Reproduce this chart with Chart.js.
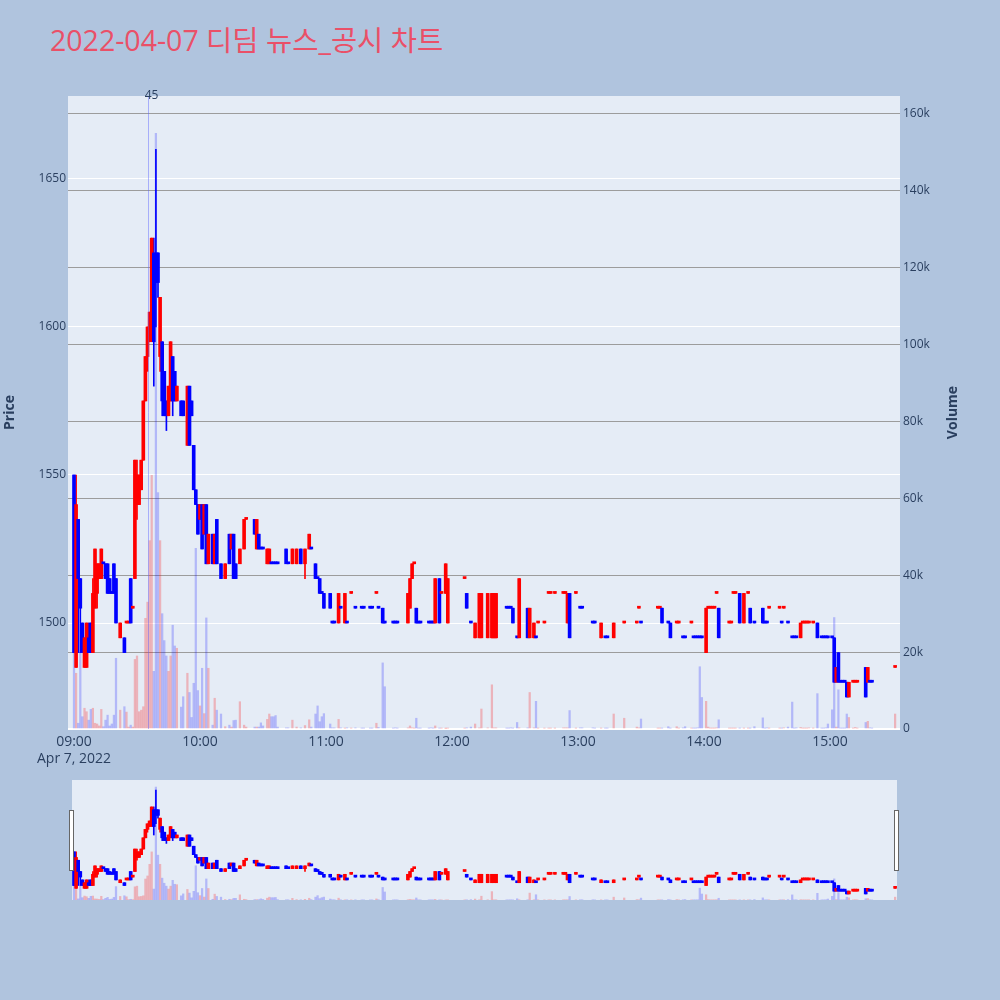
<!DOCTYPE html>
<html>
<head>
<meta charset="utf-8">
<script src="https://cdn.jsdelivr.net/npm/chart.js@4.4.1/dist/chart.umd.min.js"></script>
<style>
  body { margin: 0; width: 1000px; height: 1000px; background: #b0c4de; position: relative; overflow: hidden; }
  #title { position: absolute; left: 50px; top: 21px; font-family: "Open Sans", "Noto Sans CJK KR", sans-serif; font-size: 28.5px; line-height: 38px; color: #ea5068; white-space: nowrap; }
  #main { position: absolute; left: 0; top: 0; }
  #slider { position: absolute; left: 62px; top: 780px; }
</style>
</head>
<body>
<div id="title">2022-04-07 디딤 뉴스_공시 차트</div>
<canvas id="main" width="1000" height="775"></canvas>
<canvas id="slider" width="845" height="120"></canvas>
<script>
// minutes after 09:00
const minutes = [
  0, 1, 2, 3, 4, 5, 6, 7, 8, 9,
  10, 11, 12, 13, 14, 15, 16, 17, 18, 19,
  20, 22, 24, 25, 26, 27, 28, 29, 30, 31,
  32, 33, 34, 35, 36, 37, 38, 39, 40, 41,
  42, 43, 44, 45, 46, 47, 48, 49, 51, 52,
  54, 55, 56, 57, 58, 59, 60, 61, 62, 63,
  64, 66, 67, 68, 70, 72, 74, 75, 76, 77,
  79, 81, 82, 86, 87, 88, 89, 90, 92, 93,
  94, 95, 96, 97, 101, 102, 104, 106, 108, 110,
  112, 113, 115, 116, 117, 118, 119, 122, 123, 124,
  126, 127, 129, 130, 132, 134, 137, 138, 141, 142,
  144, 145, 147, 148, 152, 153, 154, 159, 160, 161,
  162, 163, 164, 165, 169, 170, 171, 172, 174, 175,
  177, 178, 186, 187, 189, 191, 193, 194, 197, 199,
  200, 201, 206, 207, 208, 209, 211, 212, 216, 217,
  219, 220, 221, 224, 226, 227, 229, 233, 234, 235,
  236, 239, 241, 242, 247, 248, 251, 253, 254, 257,
  262, 268, 269, 270, 278, 279, 280, 283, 284, 287,
  288, 290, 291, 294, 295, 296, 297, 298, 299, 301,
  302, 303, 304, 305, 306, 307, 312, 313, 314, 315,
  317, 319, 321, 322, 324, 328, 329, 330, 331, 336,
  337, 338, 340, 342, 343, 344, 346, 347, 348, 349,
  350, 352, 354, 356, 357, 358, 359, 361, 362, 363,
  364, 365, 366, 367, 368, 369, 371, 372, 373, 377,
  378, 379, 380, 391
];
const opens = [
  1550, 1485, 1535, 1515, 1500, 1485, 1485, 1495, 1500, 1490,
  1505, 1510, 1515, 1515, 1520, 1520, 1520, 1515, 1510, 1520,
  1515, 1495, 1495, 1500, 1500, 1515, 1505, 1515, 1540, 1540,
  1545, 1555, 1575, 1590, 1595, 1605, 1625, 1625, 1625, 1590,
  1595, 1585, 1575, 1570, 1575, 1590, 1585, 1575, 1575, 1575,
  1560, 1580, 1575, 1560, 1545, 1540, 1535, 1540, 1530, 1540,
  1520, 1530, 1520, 1535, 1520, 1515, 1530, 1525, 1530, 1520,
  1520, 1525, 1535, 1535, 1525, 1530, 1525, 1525, 1520, 1520,
  1520, 1520, 1520, 1520, 1525, 1520, 1520, 1520, 1525, 1520,
  1525, 1525, 1520, 1515, 1515, 1510, 1510, 1510, 1500, 1500,
  1500, 1505, 1500, 1500, 1510, 1505, 1505, 1505, 1505, 1505,
  1510, 1505, 1505, 1500, 1500, 1500, 1500, 1500, 1505, 1515,
  1520, 1505, 1500, 1500, 1500, 1500, 1500, 1500, 1515, 1510,
  1510, 1500, 1515, 1510, 1500, 1495, 1495, 1495, 1495, 1495,
  1495, 1495, 1505, 1505, 1505, 1505, 1495, 1495, 1505, 1495,
  1495, 1495, 1500, 1500, 1510, 1510, 1510, 1510, 1510, 1500,
  1510, 1510, 1505, 1505, 1500, 1500, 1495, 1495, 1495, 1495,
  1500, 1500, 1505, 1500, 1505, 1505, 1505, 1500, 1500, 1500,
  1500, 1495, 1495, 1500, 1495, 1495, 1495, 1495, 1495, 1490,
  1505, 1505, 1505, 1505, 1510, 1505, 1500, 1500, 1510, 1510,
  1510, 1500, 1510, 1505, 1500, 1505, 1500, 1500, 1505, 1505,
  1500, 1505, 1500, 1495, 1495, 1495, 1495, 1500, 1500, 1500,
  1500, 1500, 1500, 1495, 1495, 1495, 1495, 1495, 1495, 1480,
  1490, 1480, 1480, 1480, 1480, 1475, 1480, 1480, 1480, 1485,
  1480, 1480, 1480, 1485
];
const highs = [
  1550, 1550, 1535, 1515, 1500, 1495, 1500, 1500, 1500, 1515,
  1525, 1520, 1520, 1525, 1520, 1520, 1520, 1515, 1510, 1520,
  1515, 1500, 1495, 1500, 1500, 1515, 1505, 1555, 1555, 1550,
  1555, 1575, 1590, 1600, 1605, 1630, 1630, 1660, 1625, 1610,
  1595, 1585, 1575, 1580, 1595, 1590, 1585, 1580, 1575, 1575,
  1580, 1580, 1575, 1560, 1545, 1540, 1540, 1540, 1540, 1540,
  1530, 1530, 1530, 1535, 1520, 1520, 1530, 1530, 1530, 1520,
  1525, 1535, 1535, 1535, 1535, 1530, 1525, 1525, 1525, 1525,
  1520, 1520, 1520, 1520, 1525, 1520, 1525, 1525, 1525, 1525,
  1530, 1525, 1520, 1515, 1515, 1510, 1510, 1510, 1500, 1500,
  1510, 1505, 1510, 1500, 1510, 1505, 1505, 1505, 1505, 1505,
  1510, 1505, 1505, 1500, 1500, 1500, 1500, 1510, 1515, 1520,
  1520, 1505, 1500, 1500, 1500, 1500, 1500, 1515, 1515, 1510,
  1520, 1515, 1515, 1510, 1500, 1500, 1510, 1510, 1510, 1510,
  1510, 1510, 1505, 1505, 1505, 1505, 1495, 1515, 1505, 1505,
  1500, 1495, 1500, 1500, 1510, 1510, 1510, 1510, 1510, 1510,
  1510, 1510, 1505, 1505, 1500, 1500, 1500, 1495, 1495, 1500,
  1500, 1500, 1505, 1500, 1505, 1505, 1505, 1500, 1500, 1500,
  1500, 1495, 1495, 1500, 1495, 1495, 1495, 1495, 1495, 1505,
  1505, 1505, 1505, 1505, 1510, 1505, 1500, 1500, 1510, 1510,
  1510, 1510, 1510, 1505, 1500, 1505, 1500, 1500, 1505, 1505,
  1500, 1505, 1500, 1495, 1495, 1495, 1500, 1500, 1500, 1500,
  1500, 1500, 1500, 1495, 1495, 1495, 1495, 1495, 1495, 1485,
  1490, 1480, 1480, 1480, 1480, 1480, 1480, 1480, 1480, 1485,
  1485, 1480, 1480, 1485
];
const lows = [
  1490, 1485, 1490, 1490, 1490, 1485, 1485, 1490, 1490, 1490,
  1505, 1505, 1515, 1515, 1520, 1515, 1510, 1510, 1510, 1510,
  1500, 1495, 1490, 1500, 1500, 1500, 1505, 1515, 1535, 1540,
  1545, 1555, 1575, 1585, 1595, 1595, 1580, 1600, 1610, 1585,
  1570, 1570, 1565, 1570, 1575, 1570, 1575, 1575, 1570, 1570,
  1560, 1560, 1570, 1545, 1540, 1530, 1535, 1525, 1530, 1520,
  1520, 1520, 1520, 1520, 1515, 1515, 1520, 1525, 1515, 1515,
  1520, 1525, 1535, 1530, 1525, 1525, 1525, 1525, 1520, 1520,
  1520, 1520, 1520, 1520, 1520, 1520, 1520, 1520, 1520, 1515,
  1525, 1525, 1515, 1515, 1510, 1510, 1505, 1505, 1500, 1500,
  1500, 1505, 1500, 1500, 1510, 1505, 1505, 1505, 1505, 1505,
  1510, 1505, 1500, 1500, 1500, 1500, 1500, 1500, 1505, 1515,
  1520, 1500, 1500, 1500, 1500, 1500, 1500, 1500, 1500, 1510,
  1510, 1500, 1515, 1505, 1500, 1495, 1495, 1495, 1495, 1495,
  1495, 1495, 1505, 1505, 1505, 1500, 1495, 1495, 1495, 1495,
  1495, 1495, 1500, 1500, 1510, 1510, 1510, 1510, 1510, 1500,
  1495, 1510, 1505, 1505, 1500, 1500, 1495, 1495, 1495, 1495,
  1500, 1500, 1505, 1500, 1505, 1505, 1500, 1500, 1495, 1500,
  1500, 1495, 1495, 1500, 1495, 1495, 1495, 1495, 1495, 1490,
  1505, 1505, 1505, 1505, 1510, 1495, 1500, 1500, 1510, 1510,
  1500, 1500, 1510, 1500, 1500, 1500, 1500, 1500, 1505, 1505,
  1500, 1505, 1500, 1495, 1495, 1495, 1495, 1500, 1500, 1500,
  1500, 1500, 1495, 1495, 1495, 1495, 1495, 1495, 1480, 1480,
  1480, 1480, 1480, 1480, 1475, 1475, 1480, 1480, 1480, 1475,
  1480, 1480, 1480, 1485
];
const closes = [
  1490, 1540, 1515, 1505, 1490, 1495, 1500, 1490, 1490, 1510,
  1525, 1520, 1520, 1525, 1520, 1515, 1510, 1510, 1510, 1510,
  1500, 1500, 1490, 1500, 1500, 1500, 1505, 1555, 1550, 1550,
  1555, 1575, 1590, 1600, 1605, 1630, 1595, 1615, 1615, 1610,
  1575, 1570, 1570, 1580, 1595, 1575, 1575, 1580, 1570, 1570,
  1580, 1560, 1570, 1545, 1540, 1530, 1540, 1525, 1540, 1520,
  1530, 1520, 1530, 1520, 1515, 1520, 1520, 1530, 1515, 1515,
  1525, 1535, 1535, 1530, 1535, 1525, 1525, 1525, 1525, 1525,
  1520, 1520, 1520, 1520, 1520, 1520, 1525, 1525, 1520, 1525,
  1530, 1525, 1515, 1515, 1510, 1510, 1505, 1505, 1500, 1500,
  1510, 1505, 1510, 1500, 1510, 1505, 1505, 1505, 1505, 1505,
  1510, 1505, 1500, 1500, 1500, 1500, 1500, 1510, 1515, 1520,
  1520, 1500, 1500, 1500, 1500, 1500, 1500, 1515, 1500, 1510,
  1520, 1515, 1515, 1505, 1500, 1500, 1510, 1510, 1510, 1510,
  1510, 1510, 1505, 1505, 1505, 1500, 1495, 1515, 1495, 1505,
  1500, 1495, 1500, 1500, 1510, 1510, 1510, 1510, 1510, 1510,
  1495, 1510, 1505, 1505, 1500, 1500, 1500, 1495, 1495, 1500,
  1500, 1500, 1505, 1500, 1505, 1505, 1500, 1500, 1495, 1500,
  1500, 1495, 1495, 1500, 1495, 1495, 1495, 1495, 1495, 1505,
  1505, 1505, 1505, 1505, 1510, 1495, 1500, 1500, 1510, 1510,
  1500, 1510, 1510, 1500, 1500, 1500, 1500, 1500, 1505, 1505,
  1500, 1505, 1500, 1495, 1495, 1495, 1500, 1500, 1500, 1500,
  1500, 1500, 1495, 1495, 1495, 1495, 1495, 1495, 1480, 1485,
  1480, 1480, 1480, 1480, 1475, 1480, 1480, 1480, 1480, 1475,
  1485, 1480, 1480, 1485
];
const volumes = [
  20000, 14500, 1500, 19700, 3200, 5400, 4500, 2300, 5100, 5400,
  1500, 1300, 800, 5100, 600, 2300, 3600, 800, 1300, 3600,
  18400, 4900, 5800, 4400, 500, 1000, 500, 18100, 19000, 4500,
  4900, 5800, 28800, 33000, 49000, 66000, 15000, 155000, 61500, 49000,
  30000, 23000, 19000, 15000, 19000, 27000, 21600, 21000, 5700, 8400,
  14500, 9500, 3000, 11900, 47000, 10000, 6000, 15800, 4000, 28900,
  15800, 1000, 8000, 4900, 3900, 600, 1000, 500, 2200, 2300,
  7100, 1000, 500, 500, 500, 500, 1600, 800, 2500, 3900,
  3200, 3200, 3500, 500, 300, 300, 2300, 500, 300, 900,
  2400, 500, 3900, 6000, 1900, 3200, 4000, 1300, 300, 300,
  2500, 300, 200, 300, 200, 300, 200, 200, 200, 200,
  1500, 400, 17200, 11000, 200, 300, 200, 300, 800, 300,
  200, 2800, 200, 200, 200, 300, 200, 800, 200, 200,
  100, 200, 200, 300, 500, 1300, 300, 5200, 300, 11500,
  300, 300, 200, 200, 300, 200, 1700, 300, 300, 9500,
  300, 7200, 200, 200, 200, 200, 200, 300, 300, 300,
  4800, 200, 300, 300, 300, 200, 200, 200, 200, 3900,
  2800, 500, 300, 2600, 200, 200, 200, 600, 200, 600,
  200, 300, 600, 200, 200, 200, 300, 16200, 8200, 7200,
  500, 200, 200, 200, 300, 2400, 200, 200, 200, 200,
  200, 200, 200, 200, 600, 2900, 200, 300, 200, 200,
  200, 300, 500, 7000, 200, 300, 400, 200, 200, 200,
  300, 200, 9200, 200, 200, 300, 1300, 5000, 29000, 500,
  10200, 200, 200, 200, 3900, 3000, 200, 400, 200, 1700,
  2000, 300, 200, 3900
];

const hourTicks = [0, 60, 120, 180, 240, 300, 360];
const hourLabels = ['09:00', '10:00', '11:00', '12:00', '13:00', '14:00', '15:00'];
const dateLabel = 'Apr 7, 2022';
const priceTicks = [1500, 1550, 1600, 1650];
const volumeTicks = [0, 20000, 40000, 60000, 80000, 100000, 120000, 140000, 160000];
const newsMinutes = [35];
const newsLabels = ['45'];

const FONT = '"Open Sans", "Noto Sans CJK KR", sans-serif';
const INK = '#2a3f5f';
const UP = '#ff0000', DOWN = '#0000ff';
const PRICE_MIN = 1464.2, PRICE_MAX = 1678;
const VOL_MAX = 164680;

// plotly style: equal open/close takes direction from previous close
const rising = [];
closes.forEach((c, i) => {
  const o = opens[i];
  if (c > o) rising.push(true);
  else if (c < o) rising.push(false);
  else if (i > 0 && c !== closes[i - 1]) rising.push(c > closes[i - 1]);
  else rising.push(i > 0 ? rising[i - 1] : false);
});

function makeDatasets() {
  const lineColors = rising.map(r => r ? UP : DOWN);
  const volColors = rising.map(r => r ? 'rgba(255,0,0,0.24)' : 'rgba(0,0,255,0.22)');
  return [
    {
      data: minutes.map((m, i) => ({ x: m, y: [opens[i], closes[i]] })),
      yAxisID: 'y', backgroundColor: lineColors, barThickness: 3, minBarLength: 2,
      grouped: false, order: 1
    },
    {
      data: minutes.map((m, i) => ({ x: m, y: [lows[i], highs[i]] })),
      yAxisID: 'y', backgroundColor: lineColors, barThickness: 1,
      grouped: false, order: 2
    },
    {
      data: minutes.map((m, i) => ({ x: m, y: volumes[i] })),
      yAxisID: 'y2', backgroundColor: volColors, barThickness: 1.6,
      grouped: false, order: 3
    }
  ];
}

const plotBg = {
  id: 'plotBg',
  beforeDraw(chart) {
    const { ctx, chartArea: a } = chart;
    ctx.save();
    ctx.fillStyle = '#e5ecf6';
    ctx.fillRect(a.left, a.top, a.right - a.left, a.bottom - a.top + 1);
    ctx.restore();
  }
};

const extras = {
  id: 'extras',
  afterDatasetsDraw(chart) {
    const { ctx, chartArea: a, scales } = chart;
    ctx.save();
    newsMinutes.forEach((m, i) => {
      const x = Math.round(scales.x.getPixelForValue(m)) + 0.5;
      ctx.strokeStyle = 'rgba(90,100,255,0.45)';
      ctx.lineWidth = 1;
      ctx.beginPath();
      ctx.moveTo(x, a.top);
      ctx.lineTo(x, a.bottom);
      ctx.stroke();
      ctx.fillStyle = INK;
      ctx.font = '12px ' + FONT;
      ctx.textAlign = 'center';
      ctx.textBaseline = 'middle';
      ctx.fillText(newsLabels[i], x + 3, a.top);
    });
    // axis titles
    ctx.font = 'bold 14px ' + FONT;
    ctx.fillStyle = INK;
    ctx.textAlign = 'center';
    ctx.textBaseline = 'middle';
    const midY = (a.top + a.bottom) / 2;
    [['Price', 10], ['Volume', 953]].forEach(([t, x]) => {
      ctx.save();
      ctx.translate(x, midY);
      ctx.rotate(-Math.PI / 2);
      ctx.fillText(t, 0, 0);
      ctx.restore();
    });
    ctx.restore();
  }
};

new Chart(document.getElementById('main'), {
  type: 'bar',
  data: { datasets: makeDatasets() },
  options: {
    responsive: false,
    animation: false,
    devicePixelRatio: 1,
    events: [],
    layout: { padding: { top: 96, right: 37, left: 0, bottom: 0 } },
    plugins: { legend: { display: false }, tooltip: { enabled: false } },
    scales: {
      x: {
        type: 'linear', min: -2.857, max: 393.33, offset: false,
        grid: { display: false, drawTicks: false },
        border: { display: false },
        afterBuildTicks: s => { s.ticks = hourTicks.map(v => ({ value: v })); },
        afterFit: s => { s.height = 46; },
        ticks: {
          autoSkip: false, maxRotation: 0, padding: 5, color: INK,
          font: { family: FONT, size: 14 },
          callback: v => {
            const i = hourTicks.indexOf(v);
            return i === 0 ? [hourLabels[i], dateLabel] : hourLabels[i];
          }
        }
      },
      y: {
        position: 'left', min: PRICE_MIN, max: PRICE_MAX,
        grid: { color: '#ffffff', drawTicks: false },
        border: { display: false },
        afterBuildTicks: s => { s.ticks = priceTicks.map(v => ({ value: v })); },
        afterFit: s => { s.width = 68; },
        ticks: { padding: 2, color: INK, font: { family: FONT, size: 12 }, callback: v => String(v) }
      },
      y2: {
        position: 'right', min: 0, max: VOL_MAX,
        grid: {
          drawTicks: false,
          color: c => c.tick.value === 0 ? '#ffffff' : '#9c9c9c',
          lineWidth: c => c.tick.value === 0 ? 2 : 1
        },
        border: { display: false },
        afterBuildTicks: s => { s.ticks = volumeTicks.map(v => ({ value: v })); },
        afterFit: s => { s.width = 63; },
        ticks: {
          padding: 3, color: INK, font: { family: FONT, size: 12 },
          callback: v => v === 0 ? '0' : (v / 1000) + 'k'
        }
      }
    }
  },
  plugins: [plotBg, extras]
});

// range slider below the main plot
const handles = {
  id: 'handles',
  afterDraw(chart) {
    const { ctx, chartArea: a } = chart;
    const h = (a.bottom - a.top) / 2;
    const y = a.top + h / 2;
    ctx.save();
    ctx.fillStyle = '#ffffff';
    ctx.strokeStyle = '#666666';
    ctx.lineWidth = 1;
    [a.left - 2, a.right - 2].forEach(x => {
      ctx.fillRect(x - 0.5, y, 4, h);
      ctx.strokeRect(x - 0.5, y + 0.5, 4, h);
    });
    ctx.restore();
  }
};

new Chart(document.getElementById('slider'), {
  type: 'bar',
  data: { datasets: makeDatasets() },
  options: {
    responsive: false,
    animation: false,
    devicePixelRatio: 1,
    events: [],
    layout: { padding: { top: 0, right: 10, left: 10, bottom: 0 } },
    plugins: { legend: { display: false }, tooltip: { enabled: false } },
    scales: {
      x: { type: 'linear', min: -0.95, max: 391.9, offset: false, display: false },
      y: { display: false, min: PRICE_MIN, max: PRICE_MAX },
      y2: { display: false, position: 'right', min: 0, max: VOL_MAX }
    }
  },
  plugins: [plotBg, handles]
});
</script>
</body>
</html>
